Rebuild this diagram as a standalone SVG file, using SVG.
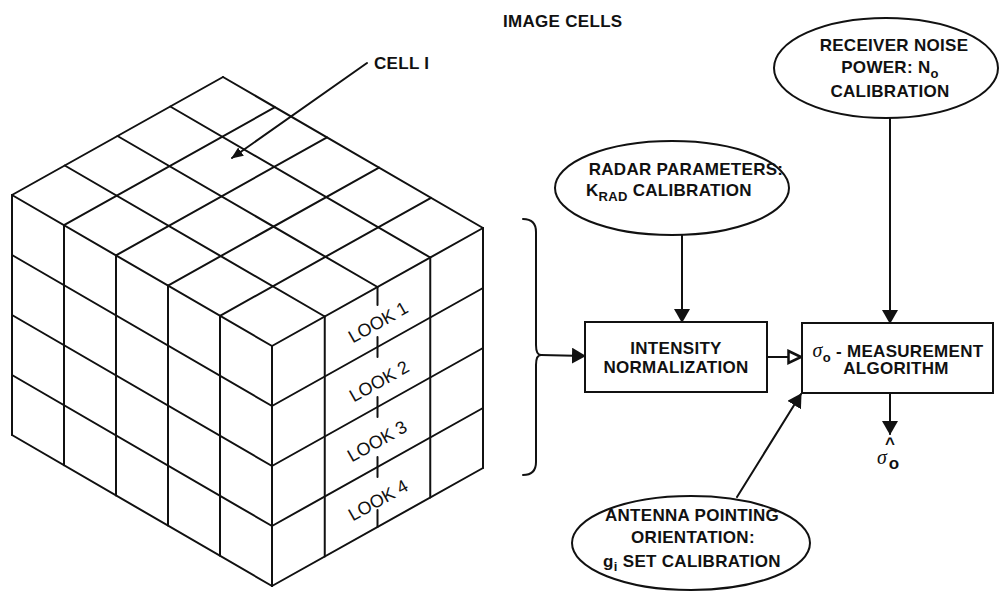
<svg xmlns="http://www.w3.org/2000/svg" width="1000" height="592" viewBox="0 0 1000 592">
<defs>
<style>
.ln{stroke:#111;stroke-width:2;fill:none;stroke-linecap:round;stroke-linejoin:round}
.sh{stroke:#111;stroke-width:2;fill:#fff}
.t{font-family:"Liberation Sans",Arial,Helvetica,sans-serif;font-weight:bold;font-size:17px;fill:#111;letter-spacing:0.3px}
.lk{font-family:"Liberation Sans",Arial,Helvetica,sans-serif;font-size:18px;fill:#111}
.sub{font-size:13px}
.sg{font-family:"Liberation Serif",serif;font-style:italic;font-weight:normal;font-size:20px}
</style>
<marker id="ah" viewBox="0 0 14 16" refX="13" refY="8" markerWidth="14" markerHeight="16" markerUnits="userSpaceOnUse" orient="auto"><path d="M0,0 L14,8 L0,16 z" fill="#111"/></marker>
<marker id="ahs" viewBox="0 0 12 10" refX="11" refY="5" markerWidth="12" markerHeight="10" markerUnits="userSpaceOnUse" orient="auto"><path d="M0,0 L12,5 L0,10 z" fill="#111"/></marker>
<marker id="aho" viewBox="0 0 16 16" refX="14" refY="8" markerWidth="16" markerHeight="16" markerUnits="userSpaceOnUse" orient="auto"><path d="M1.5,2 L14,8 L1.5,14 z" fill="#fff" stroke="#111" stroke-width="2.5" stroke-linejoin="miter"/></marker>
</defs>
<rect width="1000" height="592" fill="#fff"/>

<g id="cube" class="ln">
  <path d="M12,195 V435 M64,225.2 V465.2 M116,255.4 V495.4 M168,285.6 V525.6 M220,315.8 V555.8 M272,346 V586"/>
  <path d="M12,195 L272,346 M12,255 L272,406 M12,315 L272,466 M12,375 L272,526 M12,435 L272,586"/>
  <path d="M324.75,316.5 V556.5 M430.25,257.5 V497.5 M483,228 V468"/>
  <path d="M272,346 L483,228 M272,406 L483,288 M272,466 L483,348 M272,526 L483,408 M272,586 L483,468"/>
  <path d="M64.75,165.5 L324.75,316.5 M117.5,136 L377.5,287 M170.25,106.5 L430.25,257.5 M223,77 L483,228"/>
  <path d="M12,195 L223,77 M64,225.2 L275,107.2 M116,255.4 L327,137.4 M168,285.6 L379,167.6 M220,315.8 L431,197.8"/>
  <path d="M377.5,287 V305 M377.5,337 V357 M377.5,397 V417 M377.5,457 V477 M377.5,510 V527"/>
</g>

<g id="look-labels">
  <text class="lk" transform="translate(378,322) rotate(-29.4)" x="0" y="6.5" text-anchor="middle">LOOK 1</text>
  <text class="lk" transform="translate(379,381) rotate(-29.4)" x="0" y="6.5" text-anchor="middle">LOOK 2</text>
  <text class="lk" transform="translate(377,441) rotate(-29.4)" x="0" y="6.5" text-anchor="middle">LOOK 3</text>
  <text class="lk" transform="translate(378,500) rotate(-29.4)" x="0" y="6.5" text-anchor="middle">LOOK 4</text>
</g>

<g id="label-image-cells"><text class="t" x="503" y="27">IMAGE CELLS</text></g>
<g id="label-cell"><text class="t" x="374" y="69">CELL I</text></g>

<g id="connectors" class="ln">
  <path d="M367,63 L232,158" marker-end="url(#ahs)"/>
  <path d="M523,219 Q536,219 536,232 L536,345 Q536,355 541,355 Q536,355 536,365 L536,462 Q536,475 523,475"/>
  <path d="M541,355 L585,356" marker-end="url(#ah)"/>
  <path d="M682,235 L682,322" marker-end="url(#ah)"/>
  <path d="M890,118 L890,323" marker-end="url(#ah)"/>
  <path d="M767,357 L801,357" marker-end="url(#aho)"/>
  <path d="M737,497 L801,394" marker-end="url(#ah)"/>
  <path d="M890,392 L890,434" marker-end="url(#ah)"/>
</g>

<g id="receiver">
  <ellipse class="sh" cx="886" cy="68" rx="112" ry="50"/>
  <text class="t" x="894" y="51" text-anchor="middle">RECEIVER NOISE</text>
  <text class="t" x="890" y="73" text-anchor="middle">POWER: N<tspan class="sub" dy="5">o</tspan></text>
  <text class="t" x="890" y="97" text-anchor="middle">CALIBRATION</text>
</g>

<g id="radar">
  <ellipse class="sh" cx="672" cy="188" rx="117" ry="47"/>
  <text class="t" x="686" y="175" text-anchor="middle">RADAR PARAMETERS:</text>
  <text class="t" x="586" y="196" letter-spacing="0.8">K<tspan class="sub" dy="5">RAD</tspan><tspan dy="-5"> CALIBRATION</tspan></text>
</g>

<g id="intensity">
  <rect class="sh" x="585" y="322" width="182" height="70"/>
  <text class="t" x="676" y="354" text-anchor="middle">INTENSITY</text>
  <text class="t" x="676" y="373" text-anchor="middle">NORMALIZATION</text>
</g>

<g id="measurement">
  <rect class="sh" x="802" y="323" width="191" height="70"/>
  <text class="t" x="898" y="357" text-anchor="middle"><tspan class="sg">σ</tspan><tspan class="sub" dy="5">o</tspan><tspan dy="-5"> - MEASUREMENT</tspan></text>
  <text class="t" x="896" y="374" text-anchor="middle">ALGORITHM</text>
</g>

<g id="antenna">
  <ellipse class="sh" cx="691" cy="543" rx="119" ry="47"/>
  <text class="t" x="692" y="521" text-anchor="middle">ANTENNA POINTING</text>
  <text class="t" x="693" y="543" text-anchor="middle">ORIENTATION:</text>
  <text class="t" x="692" y="567" text-anchor="middle">g<tspan class="sub" dy="4">i</tspan><tspan dy="-4"> SET CALIBRATION</tspan></text>
</g>

<g id="output">
  <text class="t" x="890" y="449" text-anchor="middle" font-size="13px">^</text>
  <text class="t sg" x="882" y="464" text-anchor="middle">σ</text>
  <text class="t" x="894" y="469" text-anchor="middle" font-size="13px">o</text>
</g>
</svg>
